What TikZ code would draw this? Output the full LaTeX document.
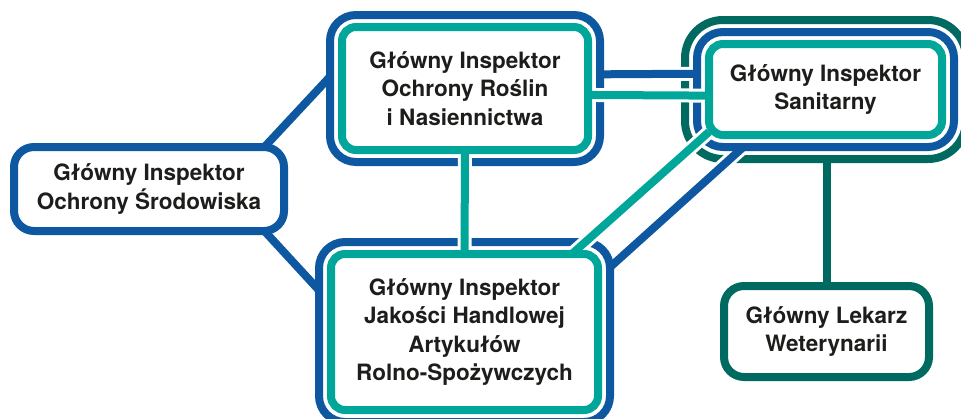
\documentclass[tikz,border=0pt]{standalone}
\usepackage{fontspec}
\setmainfont{TeX Gyre Heros}
\definecolor{gblue}{HTML}{0D58A0}
\definecolor{gteal}{HTML}{00A699}
\definecolor{ggreen}{HTML}{006A60}
\definecolor{gtext}{HTML}{1D1D1B}
\pgfdeclarelayer{outer}
\pgfdeclarelayer{blinks}
\pgfdeclarelayer{mid}
\pgfdeclarelayer{tlinks}
\pgfsetlayers{outer,blinks,mid,tlinks,main}
\begin{document}
\begin{tikzpicture}[x=1pt,y=-1pt,
    ring/.style={draw,line width=8pt,inner sep=0pt,outer sep=0pt,align=center,text=gtext,
        font=\bfseries\fontsize{22.5}{28.5}\selectfont},
    link/.style={line width=8pt},
    cut/.style={line width=8pt,preaction={draw=white,line width=14pt}}]
    \useasboundingbox(0,0)rectangle(961,418);
    \begin{pgfonlayer}{outer}
        \node[ring,draw=ggreen,rounded corners=38pt,minimum width=281pt,minimum height=139pt](Sg)at(825.5,89.5){};
    \end{pgfonlayer}
    \begin{pgfonlayer}{mid}
        \node[ring,draw=gblue,rounded corners=26pt,minimum width=270pt,minimum height=147pt](Ao)at(465,88.5){};
        \node[ring,draw=gblue,rounded corners=26pt,minimum width=257pt,minimum height=115pt](Sb)at(825.5,89.5){};
        \node[ring,draw=gblue,rounded corners=26pt,minimum width=291pt,minimum height=180pt](Jo)at(464.5,332){};
        \node[ring,draw=gblue,rounded corners=20pt,minimum width=270pt,minimum height=84pt](E)at(149,189){Główny Inspektor\\Ochrony Środowiska};
    \end{pgfonlayer}
    \node[ring,draw=gteal,rounded corners=14pt,minimum width=246pt,minimum height=123pt](A)at(465,88.5){Główny Inspektor\\Ochrony Roślin\\i Nasiennictwa};
    \node[ring,draw=gteal,rounded corners=14pt,minimum width=233pt,minimum height=91pt](S)at(825.5,89.5){Główny Inspektor\\Sanitarny};
    \node[ring,draw=gteal,rounded corners=14pt,minimum width=267pt,minimum height=156pt](J)at(464.5,332){Główny Inspektor\\Jakości Handlowej\\Artykułów\\Rolno-Spożywczych};
    \node[ring,draw=ggreen,rounded corners=20pt,minimum width=205pt,minimum height=91pt](W)at(826.5,331.5){Główny Lekarz\\Weterynarii};
    \begin{pgfonlayer}{blinks}
        \draw[gblue,link](E.20)--(Ao.175);
        \draw[gblue,link](E.-20)--(Jo.164);
        \draw[gblue,cut](Ao.6)--(Sb.173);
        \draw[gblue,cut](Jo.24)--(Sb.215);
    \end{pgfonlayer}
    \begin{pgfonlayer}{tlinks}
        \draw[gteal,cut](A.-3)--(S.183);
        \draw[gteal,cut](A.south)--(J.north);
        \draw[gteal,cut](J.36)--(S.200);
    \end{pgfonlayer}
    \draw[ggreen,link](W.north|-Sg.south)--(W.north);
\end{tikzpicture}
\end{document}
